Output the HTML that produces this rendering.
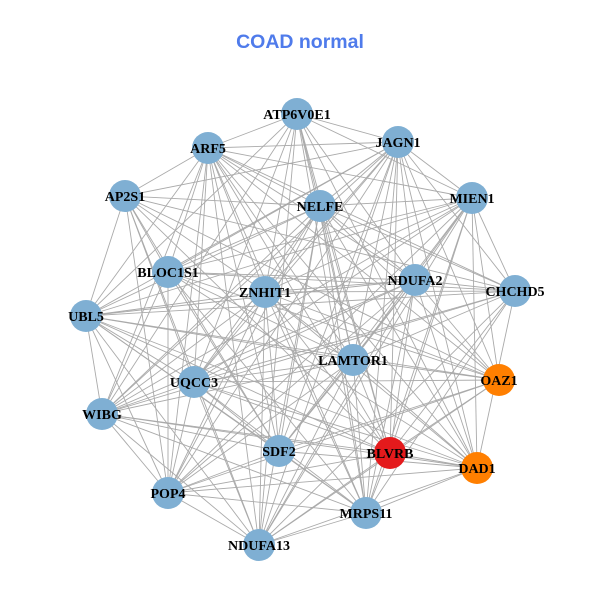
<!DOCTYPE html>
<html><head><meta charset="utf-8"><style>
html,body{margin:0;padding:0;background:#fff;}
svg{display:block}
text.l{font-family:"Liberation Serif",serif;font-weight:bold;font-size:14px;text-anchor:middle;fill:#000}
</style></head><body>
<svg id="s" width="600" height="600" viewBox="0 0 600 600" xmlns="http://www.w3.org/2000/svg">
<rect width="600" height="600" fill="#fff"/>
<text x="300" y="48" font-family="Liberation Sans, sans-serif" font-weight="bold" font-size="19.5" fill="#4F7BEB" text-anchor="middle">COAD normal</text>
<g id="edges" stroke="#aaaaaa" stroke-width="0.9"></g>
<g id="nodes">
<circle cx="297" cy="114" r="16" fill="#7FAFD3"/><circle cx="208" cy="148" r="16" fill="#7FAFD3"/>
<circle cx="398" cy="142" r="16" fill="#7FAFD3"/><circle cx="125" cy="196" r="16" fill="#7FAFD3"/>
<circle cx="320" cy="206" r="16" fill="#7FAFD3"/><circle cx="472" cy="198" r="16" fill="#7FAFD3"/>
<circle cx="168" cy="272" r="16" fill="#7FAFD3"/><circle cx="265" cy="292" r="16" fill="#7FAFD3"/>
<circle cx="415" cy="280" r="16" fill="#7FAFD3"/><circle cx="515" cy="291" r="16" fill="#7FAFD3"/>
<circle cx="86" cy="316" r="16" fill="#7FAFD3"/><circle cx="353" cy="360" r="16" fill="#7FAFD3"/>
<circle cx="499" cy="380" r="16" fill="#FF7F00"/><circle cx="194" cy="382" r="16" fill="#7FAFD3"/>
<circle cx="102" cy="414" r="16" fill="#7FAFD3"/><circle cx="279" cy="451" r="16" fill="#7FAFD3"/>
<circle cx="390" cy="453" r="16" fill="#E41A1C"/><circle cx="477" cy="468" r="16" fill="#FF7F00"/>
<circle cx="168" cy="493" r="16" fill="#7FAFD3"/><circle cx="259" cy="545" r="16" fill="#7FAFD3"/>
<circle cx="366" cy="513" r="16" fill="#7FAFD3"/>
</g>
<g>
<text class="l" x="297" y="119">ATP6V0E1</text><text class="l" x="208" y="153">ARF5</text>
<text class="l" x="398" y="147">JAGN1</text><text class="l" x="125" y="201">AP2S1</text>
<text class="l" x="320" y="211">NELFE</text><text class="l" x="472" y="203">MIEN1</text>
<text class="l" x="168" y="277">BLOC1S1</text><text class="l" x="265" y="297">ZNHIT1</text>
<text class="l" x="415" y="285">NDUFA2</text><text class="l" x="515" y="296">CHCHD5</text>
<text class="l" x="86" y="321">UBL5</text><text class="l" x="353" y="365">LAMTOR1</text>
<text class="l" x="499" y="385">OAZ1</text><text class="l" x="194" y="387">UQCC3</text>
<text class="l" x="102" y="419">WIBG</text><text class="l" x="279" y="456">SDF2</text>
<text class="l" x="390" y="458">BLVRB</text><text class="l" x="477" y="473">DAD1</text>
<text class="l" x="168" y="498">POP4</text><text class="l" x="259" y="550">NDUFA13</text>
<text class="l" x="366" y="518">MRPS11</text>
</g>
</svg>
<script>
var p=[[297,114],[208,148],[398,142],[125,196],[320,206],[472,198],[168,272],[265,292],[415,280],[515,291],[86,316],[353,360],[499,380],[194,382],[102,414],[279,451],[390,453],[477,468],[168,493],[259,545],[366,513]];
var g=document.getElementById('edges'),ns="http://www.w3.org/2000/svg";
for(var i=0;i<p.length;i++)for(var j=i+1;j<p.length;j++){
 if((i*7+j*3)%9==0)continue;
 var l=document.createElementNS(ns,'line');
 l.setAttribute('x1',p[i][0]);l.setAttribute('y1',p[i][1]);l.setAttribute('x2',p[j][0]);l.setAttribute('y2',p[j][1]);
 g.appendChild(l);}
</script>
</body></html>
